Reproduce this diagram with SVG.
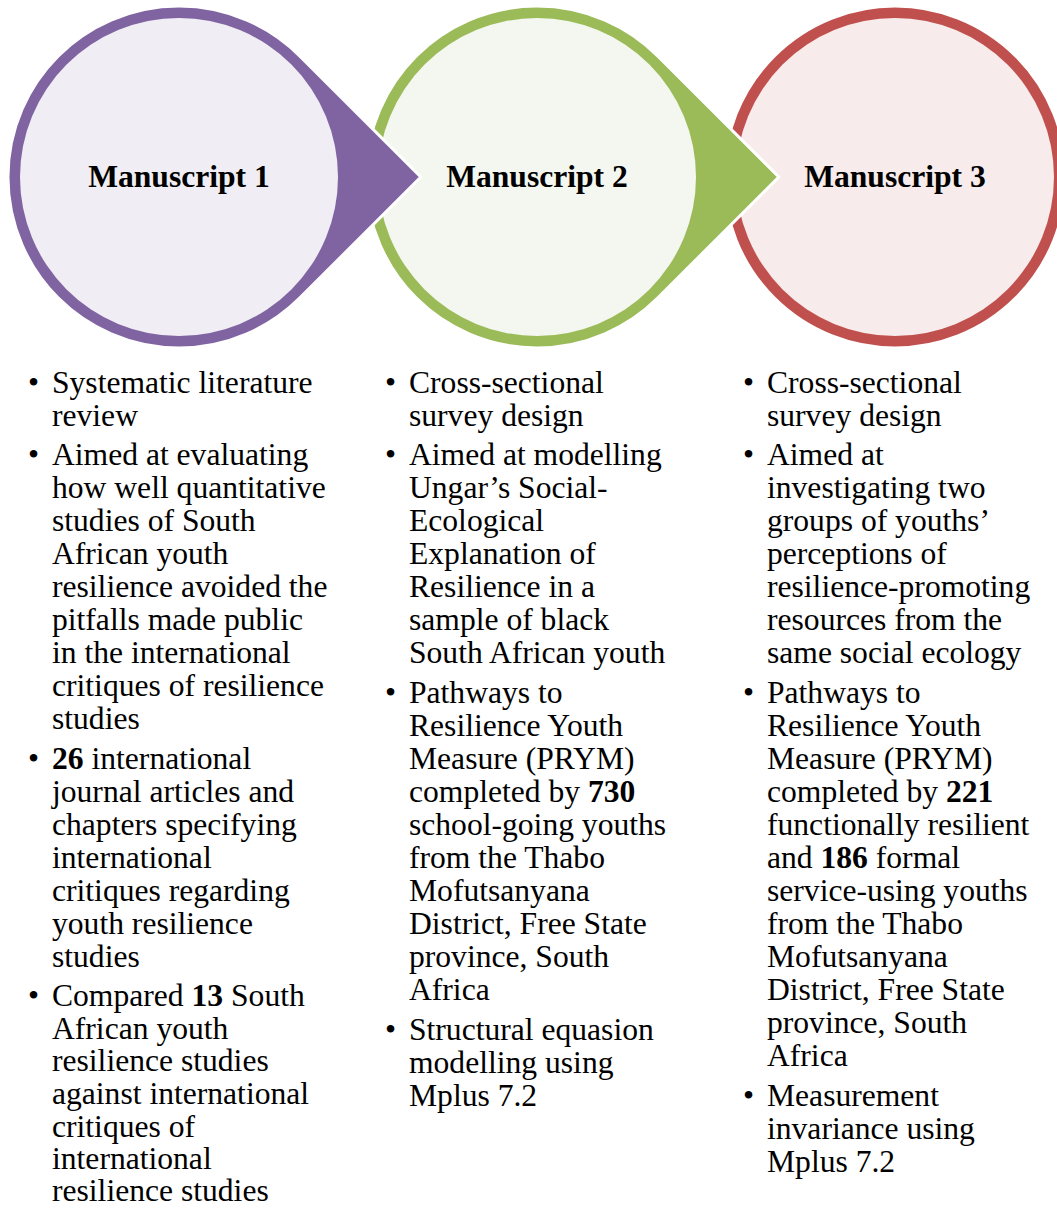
<svg xmlns="http://www.w3.org/2000/svg" width="1057" height="1209" viewBox="0 0 1057 1209">
<style>
.t { font-family: "Liberation Serif", "Times New Roman", serif; font-size: 31.6px; fill: #000; }
.h { font-weight: bold; text-anchor: middle; }
.b { font-weight: bold; }
.outline { stroke: #FFFFFF; stroke-width: 3; }
</style>
<rect width="1057" height="1209" fill="#FFFFFF"/>
<g id="connectors"/>
<g id="node3">
  <circle cx="895" cy="177" r="171" fill="#C0504D" class="outline"/>
  <circle cx="895" cy="177" r="159" fill="#F7EBEB"/>
  <text class="t h" x="895" y="187">Manuscript 3</text>
  <g class="t">
    <text x="743" y="393">•</text>
    <text x="767" y="393">Cross-sectional</text>
    <text x="767" y="426">survey design</text>
    <text x="743" y="465">•</text>
    <text x="767" y="465">Aimed at</text>
    <text x="767" y="498">investigating two</text>
    <text x="767" y="531">groups of youths’</text>
    <text x="767" y="564">perceptions of</text>
    <text x="767" y="597">resilience-promoting</text>
    <text x="767" y="630">resources from the</text>
    <text x="767" y="663">same social ecology</text>
    <text x="743" y="703">•</text>
    <text x="767" y="703">Pathways to</text>
    <text x="767" y="736">Resilience Youth</text>
    <text x="767" y="769">Measure (PRYM)</text>
    <text x="767" y="802">completed by <tspan class="b">221</tspan></text>
    <text x="767" y="835">functionally resilient</text>
    <text x="767" y="868">and <tspan class="b">186</tspan> formal</text>
    <text x="767" y="901">service-using youths</text>
    <text x="767" y="934">from the Thabo</text>
    <text x="767" y="967">Mofutsanyana</text>
    <text x="767" y="1000">District, Free State</text>
    <text x="767" y="1033">province, South</text>
    <text x="767" y="1066">Africa</text>
    <text x="743" y="1106">•</text>
    <text x="767" y="1106">Measurement</text>
    <text x="767" y="1139">invariance using</text>
    <text x="767" y="1172">Mplus 7.2</text>
  </g>
</g>
<g id="node2">
  <path d="M778.8,177 L657.9,56.1 A171,171 0 1 0 657.9,297.9 Z" fill="#9BBB59" class="outline"/>
  <circle cx="537" cy="177" r="159" fill="#F4F7EF"/>
  <text class="t h" x="537" y="187">Manuscript 2</text>
  <g class="t">
    <text x="385" y="393">•</text>
    <text x="409" y="393">Cross-sectional</text>
    <text x="409" y="426">survey design</text>
    <text x="385" y="465">•</text>
    <text x="409" y="465">Aimed at modelling</text>
    <text x="409" y="498">Ungar’s Social-</text>
    <text x="409" y="531">Ecological</text>
    <text x="409" y="564">Explanation of</text>
    <text x="409" y="597">Resilience in a</text>
    <text x="409" y="630">sample of black</text>
    <text x="409" y="663">South African youth</text>
    <text x="385" y="703">•</text>
    <text x="409" y="703">Pathways to</text>
    <text x="409" y="736">Resilience Youth</text>
    <text x="409" y="769">Measure (PRYM)</text>
    <text x="409" y="802">completed by <tspan class="b">730</tspan></text>
    <text x="409" y="835">school-going youths</text>
    <text x="409" y="868">from the Thabo</text>
    <text x="409" y="901">Mofutsanyana</text>
    <text x="409" y="934">District, Free State</text>
    <text x="409" y="967">province, South</text>
    <text x="409" y="1000">Africa</text>
    <text x="385" y="1040">•</text>
    <text x="409" y="1040">Structural equasion</text>
    <text x="409" y="1073">modelling using</text>
    <text x="409" y="1106">Mplus 7.2</text>
  </g>
</g>
<g id="node1">
  <path d="M420.8,177 L299.9,56.1 A171,171 0 1 0 299.9,297.9 Z" fill="#8064A2" class="outline"/>
  <circle cx="179" cy="177" r="159" fill="#F0EEF4"/>
  <text class="t h" x="179" y="187">Manuscript 1</text>
  <g class="t">
    <text x="28" y="393">•</text>
    <text x="52" y="393">Systematic literature</text>
    <text x="52" y="426">review</text>
    <text x="28" y="465">•</text>
    <text x="52" y="465">Aimed at evaluating</text>
    <text x="52" y="498">how well quantitative</text>
    <text x="52" y="531">studies of South</text>
    <text x="52" y="564">African youth</text>
    <text x="52" y="597">resilience avoided the</text>
    <text x="52" y="630">pitfalls made public</text>
    <text x="52" y="663">in the international</text>
    <text x="52" y="696">critiques of resilience</text>
    <text x="52" y="729">studies</text>
    <text x="28" y="769">•</text>
    <text x="52" y="769"><tspan class="b">26</tspan> international</text>
    <text x="52" y="802">journal articles and</text>
    <text x="52" y="835">chapters specifying</text>
    <text x="52" y="868">international</text>
    <text x="52" y="901">critiques regarding</text>
    <text x="52" y="934">youth resilience</text>
    <text x="52" y="967">studies</text>
    <text x="28" y="1006">•</text>
    <text x="52" y="1006">Compared <tspan class="b">13</tspan> South</text>
    <text x="52" y="1039">African youth</text>
    <text x="52" y="1071">resilience studies</text>
    <text x="52" y="1104">against international</text>
    <text x="52" y="1137">critiques of</text>
    <text x="52" y="1169">international</text>
    <text x="52" y="1201">resilience studies</text>
  </g>
</g>
</svg>
